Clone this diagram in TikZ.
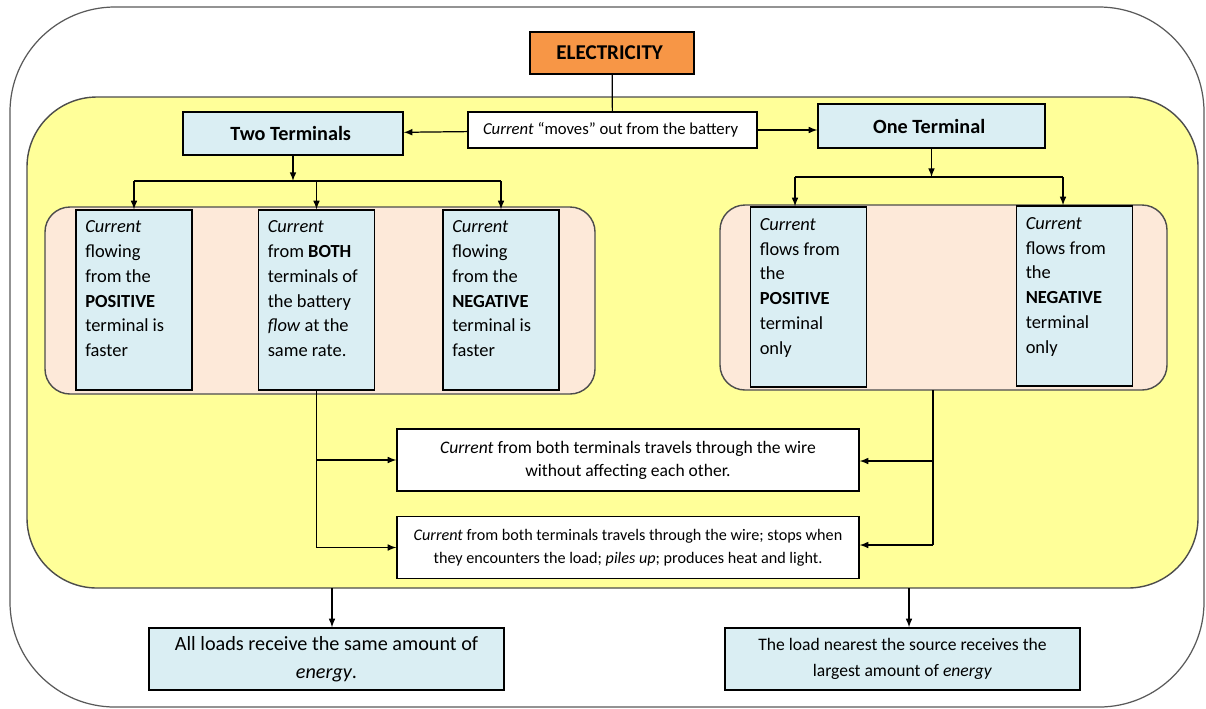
\documentclass[tikz,border=0pt]{standalone}
\usepackage{fontspec}
\setmainfont{Carlito}
\usepackage{tikz}
\usepackage{xcolor}
\usetikzlibrary{shapes, arrows, calc, positioning, fit}
\usetikzlibrary{backgrounds}

\definecolor{orangebox}{HTML}{F79646}
\definecolor{bluebox}{HTML}{DAEEF3}
\definecolor{pinkgrp}{HTML}{FDE9D9}
\definecolor{yellowgrp}{HTML}{FFFF99}

\newcommand{\lowpad}[1]{\rule[-#1]{0pt}{0pt}}

\begin{document}
\begin{tikzpicture}[x=0.02cm, y=-0.02cm, >=latex,
    box/.style={draw, line width=0.8pt, inner sep=2pt, align=center},
    tall/.style={box, fill=bluebox, minimum width=2.32cm, minimum height=3.6cm, text width=1.95cm, align=flush left, font=\fontsize{10.5}{14.2}\selectfont},
    wide/.style={box, fill=white, minimum width=9.24cm, minimum height=1.24cm},
    res/.style={box, fill=bluebox, minimum width=7.1cm, minimum height=1.24cm},
    link/.style={->, line width=0.7pt}]
        \useasboundingbox (0,0) rectangle (1206,708);
        \draw [gray!70!black, line width=0.7pt, rounded corners=2.1cm] (10,7) rectangle (1204,707);
        \draw [fill=yellowgrp, draw=black!70, line width=0.8pt, rounded corners=1.4cm] (27,97) rectangle (1198,588);
        \draw [fill=pinkgrp, draw=black!70, line width=0.8pt, rounded corners=0.5cm] (45,207) rectangle (595,394);
        \draw [fill=pinkgrp, draw=black!70, line width=0.8pt, rounded corners=0.5cm] (720,205) rectangle (1167,390);

        \node [box, fill=orangebox, minimum width=3.28cm, minimum height=0.84cm, font=\fontsize{12}{14}\selectfont\bfseries] (E) at (612,53) { ELECTRICITY };
        \node [box, fill=white, minimum width=5.78cm, minimum height=0.72cm, font=\fontsize{9.5}{11}\selectfont] (M) at (612.5,130) { \textit{Current} ``moves'' out from the battery };
        \node [box, fill=bluebox, minimum width=4.4cm, minimum height=0.86cm, font=\fontsize{11.5}{14}\selectfont\bfseries] (TT) at (293,133.5) { Two Terminals };
        \node [box, fill=bluebox, minimum width=4.54cm, minimum height=0.88cm, font=\fontsize{11.5}{14}\selectfont\bfseries] (OT) at (931.5,126) { One Terminal };

        \node [tall] (T1) at (134,300) { \textit{Current}\\ flowing\\ from the\\ \textbf{POSITIVE}\\ terminal is\\ faster\lowpad{13pt} };
        \node [tall] (T2) at (316.5,300) { \textit{Current}\\ from \textbf{BOTH}\\ terminals of\\ the battery\\ \textit{flow} at the\\ same rate.\lowpad{13pt} };
        \node [tall] (T3) at (501,300) { \textit{Current}\\ flowing\\ from the\\ \textbf{NEGATIVE}\\ terminal is\\ faster\lowpad{13pt} };
        \node [tall] (O1) at (808.5,297) { \textit{Current}\\ flows from\\ the\\ \textbf{POSITIVE}\\ terminal\\ only\lowpad{12pt} };
        \node [tall] (O2) at (1074.5,296) { \textit{Current}\\ flows from\\ the\\ \textbf{NEGATIVE}\\ terminal\\ only\lowpad{12pt} };

        \node [wide, font=\fontsize{10}{13}\selectfont] (W1) at (628,460) { \textit{Current} from both terminals travels through the wire\\ without affecting each other. };
        \node [wide, font=\fontsize{9.2}{13}\selectfont] (W2) at (628,547.5) { \textit{Current} from both terminals travels through the wire; stops when\\ they encounters the load; \textit{piles up}; produces heat and light. };

        \node [res, font=\fontsize{11.5}{16}\selectfont] (R1) at (326.5,659) { All loads receive the same amount of\\ \textit{energy}. };
        \node [res, font=\fontsize{10}{15}\selectfont] (R2) at (902.5,659) { The load nearest the source receives the\\ largest amount of \textit{energy} };

        % top
        \draw [line width=0.7pt] (E) -- (M);
        \draw [link] (M) -- (TT);
        \draw [link] (M) -- (M -| OT.west);
        % two terminals
        \draw [link] (TT) -- (TT.south |- 0,181);
        \draw [line width=0.7pt] (T1.north |- 0,181) -- (T3.north |- 0,181);
        \foreach \n in {T1, T2, T3} \draw [link] (\n.north |- 0,181) -- (\n);
        % one terminal
        \draw [link] (OT) -- (OT.south |- 0,177);
        \draw [line width=0.7pt] (795,177) -- (1063,177);
        \draw [link] (795,177) -- (O1.north -| 795,0);
        \draw [link] (1063,177) -- (O2.north -| 1063,0);
        % into the wire boxes
        \draw [line width=0.7pt] (T2.south) -- (T2.south |- W2.west);
        \draw [link] (T2.south |- W1.west) -- (W1);
        \draw [link] (T2.south |- W2.west) -- (W2);
        \draw [line width=0.7pt] (933,390) -- (933,545);
        \draw [link] (933,461) -- (W1.east |- 0,461);
        \draw [link] (933,545) -- (W2.east |- 0,545);
        % results
        \draw [link] (332,588) -- (R1.north -| 332,0);
        \draw [link] (909,588) -- (R2.north -| 909,0);
\end{tikzpicture}
\end{document}
